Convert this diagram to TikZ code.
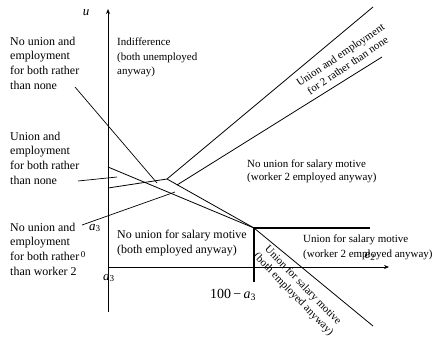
\documentclass[tikz,border=0pt]{standalone}
\usepackage{fontspec}
\setmainfont{Liberation Serif}
\usetikzlibrary{arrows.meta}
\begin{document}
\begin{tikzpicture}[x=1bp,y=-1bp,
  lbl/.style={anchor=north west,inner sep=0pt,align=left,font=\fontsize{12}{15}\selectfont},
  lblsm/.style={anchor=north west,inner sep=0pt,align=left,font=\fontsize{11}{14.5}\selectfont},
  rotlbl/.style={inner sep=0pt,align=center,font=\fontsize{11}{13}\selectfont},
  mathlbl/.style={inner sep=0pt,font=\fontsize{13}{15}\selectfont},
  curve/.style={line width=0.8pt},
  ptr/.style={line width=0.7pt},
  bold/.style={line width=1.8pt},
  axis/.style={line width=0.8pt,-{Stealth[length=5pt,width=4pt]}}]
\useasboundingbox (0,0) rectangle (435,339);
% coordinates
\coordinate (vb) at (108,312);
\coordinate (vt) at (108,9);
\coordinate (hl) at (108,267);
\coordinate (hr) at (389,267);
\coordinate (A0) at (108,167);
\coordinate (B0) at (108,188);
\coordinate (K) at (167,179);
\coordinate (E0) at (177,185);
\coordinate (Dend) at (373,7);
\coordinate (Eend) at (382,57);
\coordinate (C) at (254,228);
\coordinate (Fend) at (373,326);
\coordinate (Hend) at (370,228);
\coordinate (Vend) at (254,282);
\coordinate (p1s) at (75,87);
\coordinate (p1e) at (157,183);
\coordinate (p2s) at (78,181);
\coordinate (p2e) at (117,177);
\coordinate (p3s) at (82,225);
\coordinate (p3e) at (175,192);
% axes
\draw[axis] (vb) -- (vt);
\draw[axis] (hl) -- (hr);
% curves
\draw[curve] (A0) -- (C);
\draw[curve] (B0) -- (K) -- (C) -- (Fend);
\draw[curve] (K) -- (Dend);
\draw[curve] (E0) -- (Eend);
\draw[bold] (Vend) -- (C) -- (Hend);
% pointers
\draw[ptr] (p1s) -- (p1e);
\draw[ptr] (p2s) -- (p2e);
\draw[ptr] (p3s) -- (p3e);
% labels
\node[lbl] (l1) at (10,36.5) {No union and\\employment\\for both rather\\than none};
\node[lbl] (l2) at (10,131.5) {Union and\\employment\\for both rather\\than none};
\node[lbl] (l3) at (10,222.5) {No union and\\employment\\for both rather\\than worker 2};
\node[lblsm] (ind) at (117,38) {Indifference\\(both unemployed\\anyway)};
\node[lbl] (ctr) at (117,229.5) {No union for salary motive\\(both employed anyway)};
\node[lblsm,font=\fontsize{11}{12.3}\selectfont] (ur) at (247,160) {No union for salary motive\\(worker 2 employed anyway)};
\node[lblsm,font=\fontsize{11}{15}\selectfont] (rt) at (303,235) {Union for salary motive\\(worker 2 employed anyway)};
\node[rotlbl,rotate=34] (rot1) at (344,60) {Union and employment\\for 2 rather than none};
\node[rotlbl,rotate=-46] (rot2) at (298,290) {Union for salary motive\\(both employed anyway)};
% axis labels
\node[mathlbl] (u) at (86,13) {\itshape u};
\node[mathlbl] (e2) at (370,256) {\itshape e\textsubscript{\upshape 2}};
\node[mathlbl] (a3l) at (95,228) {\itshape a\textsubscript{\upshape 3}};
\node[mathlbl] (a3b) at (109,278) {\itshape a\textsubscript{\upshape 3}};
\node[inner sep=0pt,font=\fontsize{9}{10}\selectfont] (zero) at (83,255) {0};
\node[inner sep=0pt,font=\fontsize{14}{16}\selectfont] (cval) at (233,295) {100\,−\,\textit{a}\textsubscript{3}};
\end{tikzpicture}
\end{document}
